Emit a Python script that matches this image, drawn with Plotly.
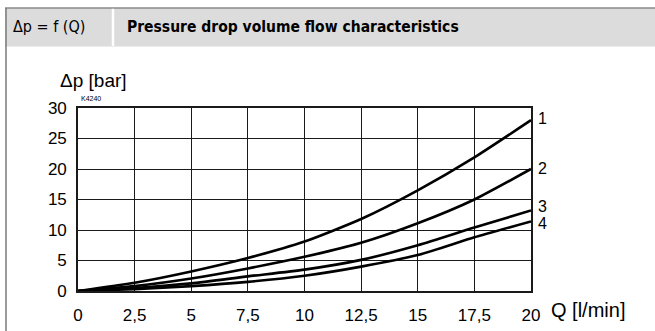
import plotly.graph_objects as go

# ---- data ----
q = [0, 2.5, 5, 7.5, 10, 12.5, 15, 17.5, 20]
curve_1 = [0, 1.35, 3.2, 5.4, 8.1, 11.8, 16.5, 21.9, 28.0]
curve_2 = [0, 0.8, 2.05, 3.7, 5.6, 7.9, 11.1, 15.0, 20.0]
curve_3 = [0, 0.5, 1.25, 2.4, 3.5, 5.1, 7.5, 10.4, 13.2]
curve_4 = [0, 0.3, 0.8, 1.5, 2.5, 4.0, 5.9, 8.8, 11.4]
curve_names = ["1", "2", "3", "4"]
label_y = [28.2, 20.1, 13.9, 11.0]
x_ticks = [0, 2.5, 5, 7.5, 10, 12.5, 15, 17.5, 20]
x_tick_text = ["0", "2,5", "5", "7,5", "10", "12,5", "15", "17,5", "20"]
y_ticks = [0, 5, 10, 15, 20, 25, 30]
y_tick_text = ["0", "5", "10", "15", "20", "25", "30"]

W, H = 655, 331
L, R, T, B = 78, 124, 108, 40
PW, PH = W - L - R, H - T - B

def px(p):
    return (p - L) / PW

def py(p):
    return (H - B - p) / PH

FONT = "Liberation Sans, Arial, sans-serif"
NARROW = "Liberation Sans Narrow, Arial Narrow, DejaVu Sans Condensed, sans-serif"

fig = go.Figure()
for ys, name in zip([curve_1, curve_2, curve_3, curve_4], curve_names):
    fig.add_trace(go.Scatter(x=q, y=ys, mode="lines", name=name,
                             line=dict(color="black", width=2.6, shape="spline", smoothing=0.6),
                             showlegend=False, hoverinfo="skip"))

annotations = []
for name, ly in zip(curve_names, label_y):
    annotations.append(dict(x=20, y=ly, xref="x", yref="y", text=name, showarrow=False,
                            xanchor="left", xshift=5, font=dict(family=FONT, size=16, color="black")))

annotations += [
    dict(x=px(58), y=py(80), xref="paper", yref="paper", text="Δp [bar]", showarrow=False,
         xanchor="left", yanchor="middle", font=dict(family=FONT, size=19, color="black")),
    dict(x=px(79), y=py(99), xref="paper", yref="paper", text="K4240", showarrow=False,
         xanchor="left", yanchor="middle", font=dict(family=FONT, size=7, color="black")),
    dict(x=px(549), y=py(310), xref="paper", yref="paper", text="Q [l/min]", showarrow=False,
         xanchor="left", yanchor="middle", font=dict(family=FONT, size=20, color="black")),
    dict(x=px(11), y=py(27), xref="paper", yref="paper", text="Δp = f (Q)", showarrow=False,
         xanchor="left", yanchor="middle", font=dict(family=NARROW, size=16, color="black")),
    dict(x=px(125), y=py(27), xref="paper", yref="paper", text="<b>Pressure drop volume flow characteristics</b>",
         showarrow=False, xanchor="left", yanchor="middle",
         font=dict(family=NARROW, size=15.5, color="black")),
]

shapes = [
    dict(type="rect", xref="paper", yref="paper", x0=px(5), x1=px(655), y0=py(46), y1=py(8),
         fillcolor="#dcdcdc", line=dict(width=0), layer="below"),
    dict(type="line", xref="paper", yref="paper", x0=px(5), x1=px(655), y0=py(8), y1=py(8),
         line=dict(color="#8a8a8a", width=1.5)),
    dict(type="line", xref="paper", yref="paper", x0=px(5), x1=px(655), y0=py(46.5), y1=py(46.5),
         line=dict(color="#ececec", width=1)),
    dict(type="line", xref="paper", yref="paper", x0=px(6), x1=px(6), y0=py(8), y1=py(331),
         line=dict(color="#7a7a7a", width=1.5)),
    dict(type="line", xref="paper", yref="paper", x0=px(113), x1=px(113), y0=py(8.8), y1=py(46),
         line=dict(color="white", width=2.5)),
]

axis_common = dict(showgrid=True, gridcolor="#1a1a1a", gridwidth=1.4, zeroline=False,
                   showline=True, linecolor="#1a1a1a", linewidth=1.6, mirror=True,
                   tickfont=dict(family=FONT, size=17, color="black"), ticks="",
                   fixedrange=True, automargin=False)

fig.update_layout(
    width=W, height=H, margin=dict(l=L, r=R, t=T, b=B),
    paper_bgcolor="white", plot_bgcolor="white",
    xaxis=dict(range=[0, 20], tickvals=x_ticks, ticktext=x_tick_text, ticklabelstandoff=8, **axis_common),
    yaxis=dict(range=[0, 30], tickvals=y_ticks, ticktext=y_tick_text, ticklabelstandoff=6, **axis_common),
    annotations=annotations, shapes=shapes,
)

fig.write_html("out.html", config={"displayModeBar": False},
               post_script="document.body.style.margin='0';document.body.style.padding='0';")
